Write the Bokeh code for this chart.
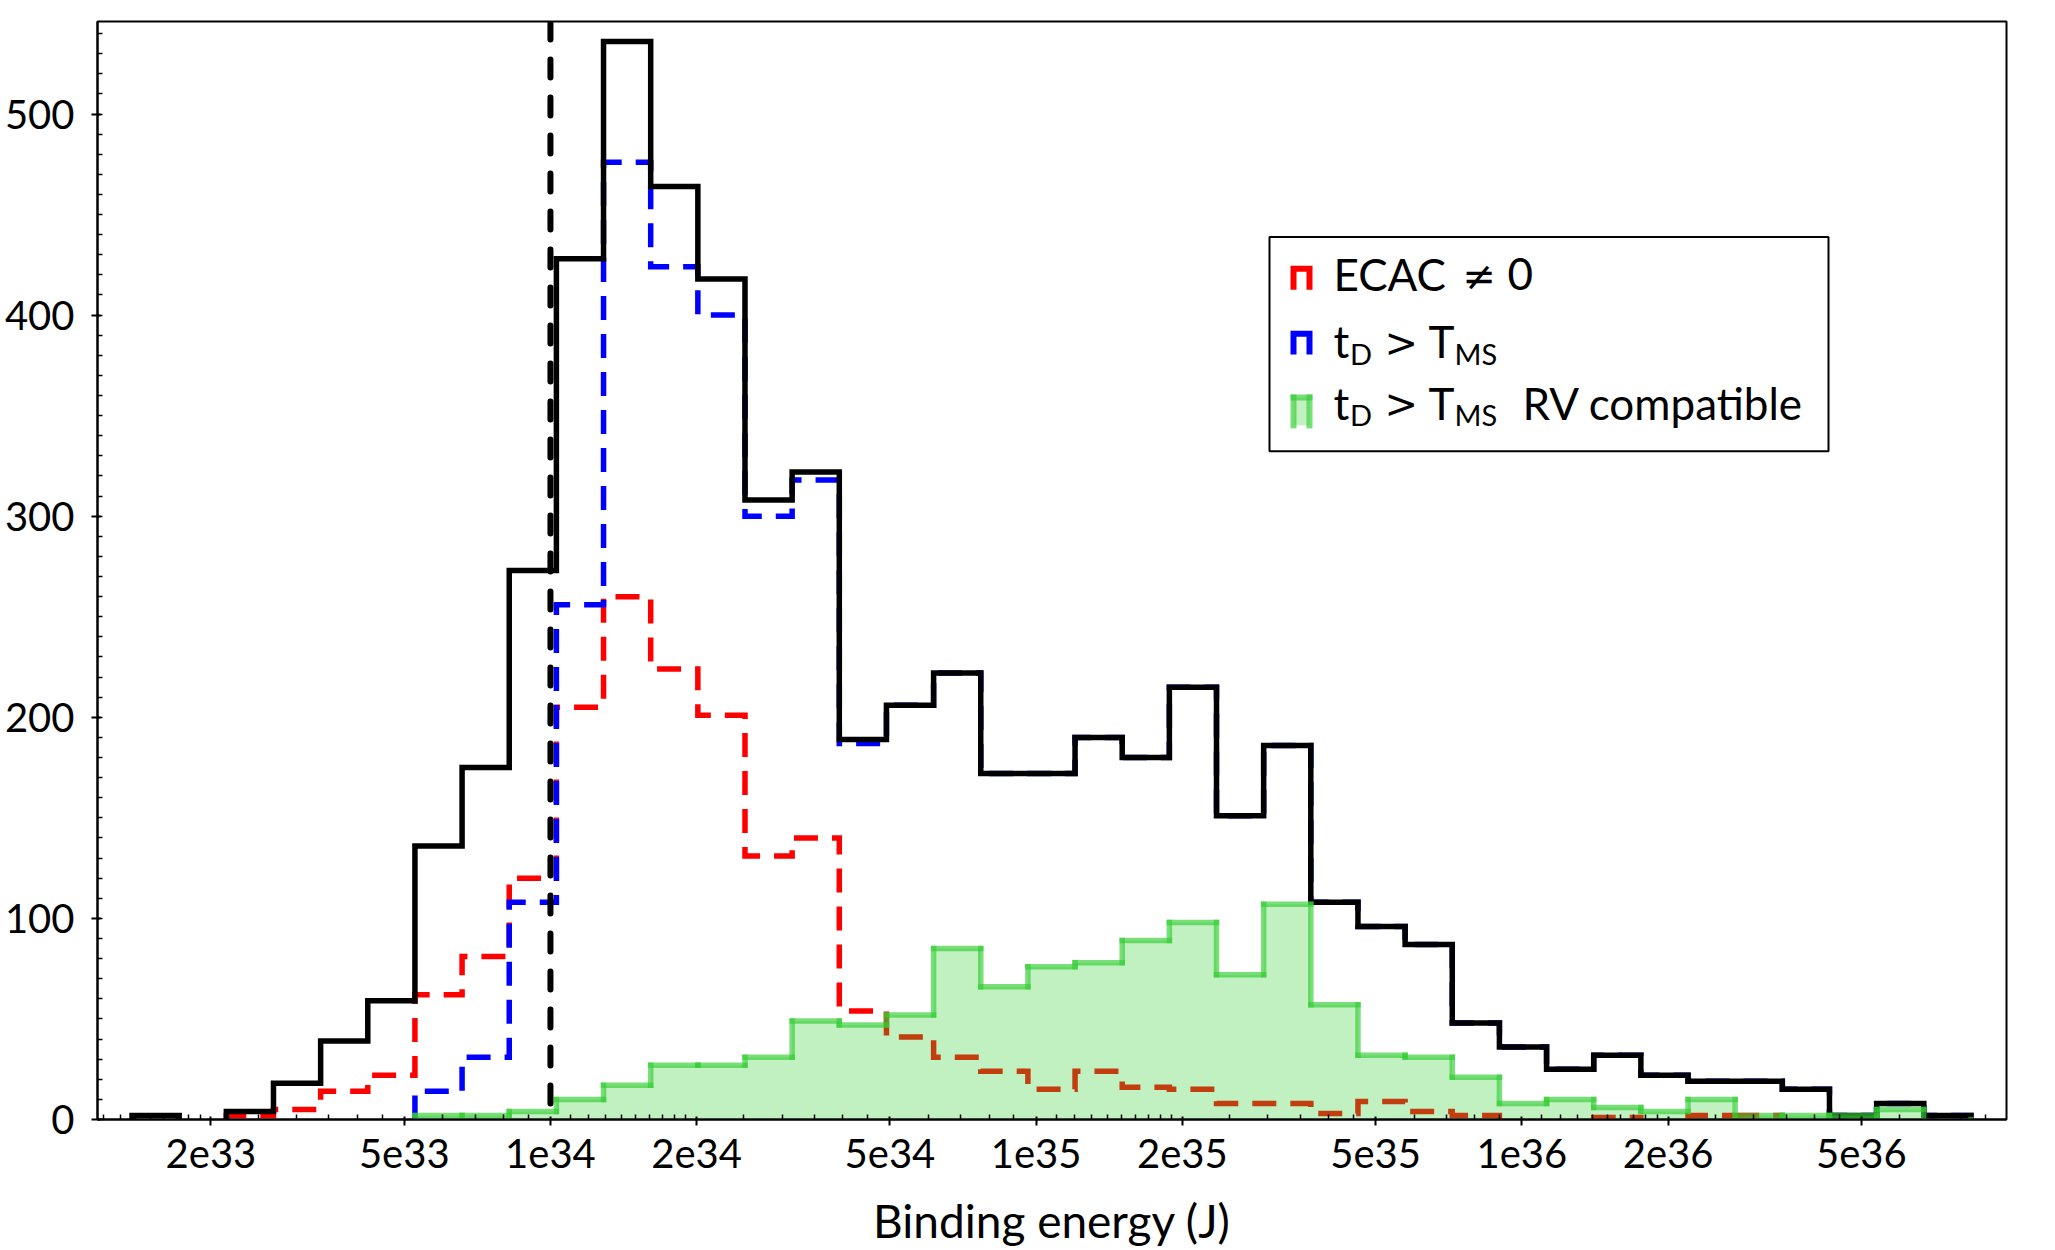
import numpy as np
from bokeh.plotting import figure
from bokeh.models import (Range1d, FixedTicker, SingleIntervalTicker,
                          CustomJSTickFormatter, Span, BoxAnnotation, Label)
from bokeh.embed import file_html
from bokeh.resources import INLINE

# ---- histogram data: 39 logarithmic bins of binding energy (J) ----
bin_lo = 1.3757e33
bin_hi = 8.406e36
n_bins = 39

counts_all = [2, 0, 4, 18, 39, 59, 136, 175, 273, 428, 536, 464, 418, 308, 322,
              189, 206, 222, 172, 172, 190, 180, 215, 151, 186, 108, 96, 87, 48,
              36, 25, 32, 22, 19, 19, 15, 2, 8, 2]
counts_ecac = [0, 0, 2, 5, 14, 22, 62, 81, 120, 205, 260, 224, 201, 131, 140,
               54, 41, 31, 24, 15, 24, 16, 15, 8, 8, 3, 9, 4, 2,
               0, 0, 1, 0, 2, 2, 0, 0, 0, 0]
counts_td = [0, 0, 0, 0, 0, 0, 14, 31, 108, 256, 476, 424, 400, 300, 318,
             187, 206, 222, 172, 172, 190, 180, 215, 151, 186, 108, 96, 87, 48,
             36, 25, 32, 22, 19, 19, 15, 2, 8, 2]
counts_rv = [0, 0, 0, 0, 0, 0, 2, 2, 4, 10, 17, 27, 27, 31, 49,
             47, 52, 85, 66, 76, 78, 89, 98, 72, 107, 57, 32, 31, 21,
             8, 10, 6, 4, 10, 2, 2, 2, 5, 0]

x_major = [2e33, 5e33, 1e34, 2e34, 5e34, 1e35, 2e35, 5e35, 1e36, 2e36, 5e36]
x_min, x_max = 1.168e33, 9.95e36
y_max = 546
threshold = 1e34

legend_labels = ["ECAC", "\u2260", "0"]
label_td = ["t", "D", ">", "T", "MS"]
label_rv_tail = "RV compatible"

edges = np.geomspace(bin_lo, bin_hi, n_bins + 1)

FONT = "Lato"
SYMBOL_FONT = "DejaVu Sans"


def step_runs(counts):
    """Outline paths (one per run of non-empty bins) of a step histogram."""
    runs = []
    i, n = 0, len(counts)
    while i < n:
        if counts[i] == 0:
            i += 1
            continue
        j = i
        while j < n and counts[j] > 0:
            j += 1
        xs, ys = [edges[i]], [0]
        for k in range(i, j):
            xs += [edges[k], edges[k + 1]]
            ys += [counts[k], counts[k]]
        xs.append(edges[j])
        ys.append(0)
        runs.append((xs, ys))
        i = j
    return runs


def step_segments(counts):
    """Separate horizontal and vertical pieces of a step outline."""
    x0, y0, x1, y1 = [], [], [], []
    prev = 0
    for k, c in enumerate(counts + [0]):
        if k < len(counts) and c == 0 and prev == 0:
            prev = c
            continue
        x0.append(edges[k]); x1.append(edges[k])
        y0.append(prev); y1.append(c)
        if k < len(counts) and c > 0:
            x0.append(edges[k]); x1.append(edges[k + 1])
            y0.append(c); y1.append(c)
        prev = c
    return x0, y0, x1, y1


p = figure(width=2055, height=1250, x_axis_type="log",
           x_range=Range1d(x_min, x_max), y_range=Range1d(0, y_max),
           output_backend="svg", toolbar_location=None,
           min_border_left=97, min_border_right=49,
           min_border_top=21, min_border_bottom=128)

p.xgrid.visible = False
p.ygrid.visible = False
p.outline_line_color = "black"
p.outline_line_width = 2
p.background_fill_color = "white"
p.border_fill_color = "white"

# ---- histograms ----
RED, BLUE, GREEN = "#ff0000", "#0000ff", "#32cd32"

ecac_runs = step_runs(counts_ecac)
p.multi_line([r[0] for r in ecac_runs], [r[1] for r in ecac_runs],
             line_color=RED, line_width=5.5, line_dash="24 14",
             line_join="miter")

td_runs = step_runs(counts_td)
p.multi_line([r[0] for r in td_runs], [r[1] for r in td_runs],
             line_color=BLUE, line_width=5.5, line_dash="24 14",
             line_join="miter")

all_runs = step_runs(counts_all)
p.multi_line([r[0] for r in all_runs], [r[1] for r in all_runs],
             line_color="black", line_width=5.5, line_join="miter")

rv_runs = step_runs(counts_rv)
p.patches([r[0] for r in rv_runs], [r[1] for r in rv_runs],
          fill_color=GREEN, fill_alpha=0.3, line_color=None)
sx0, sy0, sx1, sy1 = step_segments(counts_rv)
p.segment(sx0, sy0, sx1, sy1, line_color=GREEN, line_alpha=0.65,
          line_width=5.5, line_cap="square")

p.add_layout(Span(location=threshold, dimension="height", line_color="black",
                  line_width=6, line_dash="18 20", line_cap="round"))

# ---- axes ----
minor = []
for dec in [1e33, 1e34, 1e35, 1e36]:
    for m in [1.1, 1.2, 1.3, 1.4, 1.5, 1.6, 1.7, 1.8, 1.9,
              2.5, 3, 3.5, 4, 4.5, 6, 7, 8, 9]:
        v = m * dec
        if x_min < v < x_max:
            minor.append(v)

p.xaxis.ticker = FixedTicker(ticks=x_major, minor_ticks=minor)
p.xaxis.formatter = CustomJSTickFormatter(code="""
    const e = Math.floor(Math.log10(tick) + 1e-6);
    const m = Math.round(tick / Math.pow(10, e));
    return m + "e" + e;
""")
p.yaxis.ticker = SingleIntervalTicker(interval=100, num_minor_ticks=10)

p.xaxis.axis_label = "Binding energy (J)"
p.xaxis.axis_label_text_font = FONT
p.xaxis.axis_label_text_font_size = "46px"
p.xaxis.axis_label_text_font_style = "normal"
p.xaxis.axis_label_text_color = "black"
p.xaxis.axis_label_standoff = 22

for ax in (p.xaxis, p.yaxis):
    ax.major_label_text_font = FONT
    ax.major_label_text_font_size = "40px"
    ax.major_label_text_color = "black"
    ax.axis_line_color = "black"
    ax.axis_line_width = 2
    ax.major_tick_line_color = "black"
    ax.major_tick_line_width = 2
    ax.minor_tick_line_color = "black"
    ax.minor_tick_line_width = 1.5
    ax.major_tick_in = 3
    ax.major_tick_out = 6
    ax.minor_tick_in = 5
    ax.minor_tick_out = 0
p.xaxis.major_label_standoff = 13
p.yaxis.major_label_standoff = 17

# ---- legend, drawn by hand so the subscripts stay real text ----
F_L, F_W, F_T, F_H = 97.0, 1909.0, 21.0, 1101.0
lx0, lx1 = np.log10(x_min), np.log10(x_max)


def X(px):
    return 10 ** (lx0 + (px - F_L) / F_W * (lx1 - lx0))


def Y(py):
    return y_max * (F_T + F_H - py) / F_H


p.add_layout(BoxAnnotation(left=X(1269), right=X(1828), top=Y(237), bottom=Y(452),
                           fill_color="white", fill_alpha=1.0,
                           line_color="black", line_alpha=1.0, line_width=2))


def cap_marker(top, bottom, color):
    p.line([X(1293), X(1293), X(1309), X(1309)],
           [Y(bottom), Y(top), Y(top), Y(bottom)],
           line_color=color, line_width=6,
           line_join="miter", level="overlay")


cap_marker(269, 290, RED)
cap_marker(334, 355, BLUE)
p.quad(left=X(1293), right=X(1309), top=Y(398), bottom=Y(426),
       fill_color=GREEN, fill_alpha=0.3, line_color=None, level="overlay")
p.segment([X(1293), X(1293), X(1309)], [Y(426), Y(398), Y(426)],
          [X(1293), X(1309), X(1309)], [Y(398), Y(398), Y(398)],
          line_color=GREEN, line_alpha=0.65, line_width=6, line_cap="square",
          level="overlay")


def txt(s, px, py, size=44, font=FONT):
    # py is the wanted baseline in pixels; shift for the label's own offset
    p.add_layout(Label(x=X(px), y=Y(py - 0.35 * size), text=s, text_font=font,
                       text_font_size=f"{size}px", text_color="black",
                       text_baseline="alphabetic", text_align="left",
                       level="overlay"))


txt(legend_labels[0], 1333, 290)
txt(legend_labels[1], 1462, 290, 40, SYMBOL_FONT)
txt(legend_labels[2], 1507, 290)

for base in (357, 418.6):
    txt(label_td[0], 1333, base)
    txt(label_td[1], 1349.6, base + 6.7, 29)
    txt(label_td[2], 1384, base, 40, SYMBOL_FONT)
    txt(label_td[3], 1428, base)
    txt(label_td[4], 1454, base + 6.7, 29)
txt(label_rv_tail, 1522, 418.6)

open("out.html", "w").write(file_html(p, INLINE))
